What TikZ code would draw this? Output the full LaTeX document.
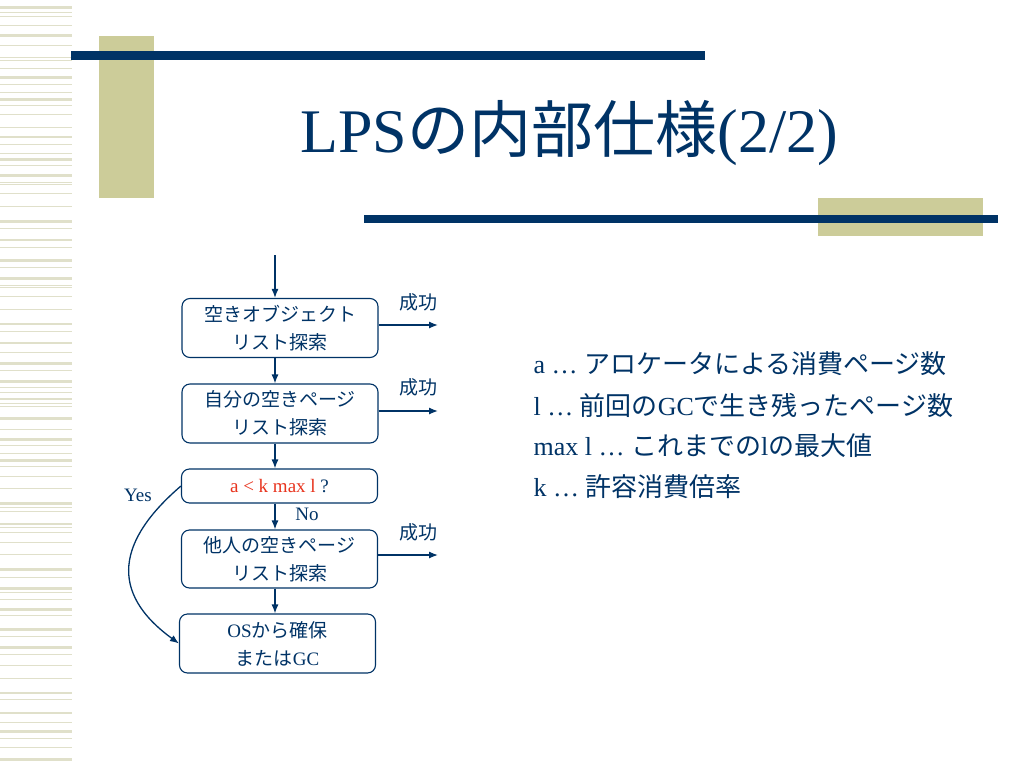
\documentclass[tikz,border=0pt]{standalone}
\usepackage{fontspec}
\setmainfont{Liberation Serif}
\newfontfamily\jp{Noto Sans CJK JP}
\usetikzlibrary{arrows.meta}

\definecolor{navy}{RGB}{0,51,102}
\definecolor{khaki}{RGB}{204,204,153}
\definecolor{stripe}{RGB}{224,224,202}
\definecolor{alarm}{RGB}{232,52,30}

\tikzset{
  flowbox/.style={draw=navy, line width=1.1pt, rounded corners=8pt, minimum width=196pt,
    minimum height=59pt, inner sep=0pt, align=center, text=navy, font=\jp\fontsize{19}{28}\selectfont},
  flow/.style={draw=navy, line width=1.3pt, -{Latex[length=9pt,width=7pt]}},
  lbl/.style={text=navy, font=\fontsize{19}{22}\selectfont},
  defline/.style={anchor=base west, text=navy, font=\fontsize{26}{30}\selectfont},
}

\begin{document}
\begin{tikzpicture}[x=1pt,y=-1pt]
          \fill[white] (0,0) rectangle (1024,768);
          \useasboundingbox (0,0) rectangle (1024,768);
          % background texture and bars
          \foreach \y/\h in {6/3,12/1,16/1,25/1,34/3,45/1,57/1,60/1,68/1,76/3,84/1,92/1,98/3,105/1,114/1,
            127/1,136/2,144/1,153/1,158/3,165/1,174/3,182/1,184/1,193/1,206/1,220/3,228/1,239/2,247/1,
            259/3,267/1,277/3,285/1,287/1,296/1,309/1,323/2,331/1,342/2,352/1,362/3,370/1,380/3,387/1,
            392/1,398/2,403/1,406/1,417/3,429/1,438/3,445/1,453/1,459/3,466/1,476/1,488/1,502/3,507/1,
            511/1,523/2,527/1,532/1,542/1,554/1,568/3,577/1,587/3,592/1,599/1,608/3,615/1,628/3,636/1,
            646/3,654/1,665/1,678/1,692/2,699/1,712/2,722/1,730/3,738/1,747/1,758/3}
            \fill[stripe] (0,\y) rectangle (72,\y+\h);
          \fill[khaki] (99,36) rectangle (154,198);
          \fill[navy] (71,51) rectangle (705,60);
          \fill[khaki] (818,198) rectangle (983,236);
          \fill[navy] (364,215) rectangle (998,223);
          \node[anchor=base west, text=navy, font=\fontsize{62}{70}\selectfont] (title) at (297,152) {LPS{\jp の内部仕様}(2/2)};
          % flow chart
          \coordinate (entry) at (275,255);
          \node[flowbox] (objs) at (280,328) {空きオブジェクト\\リスト探索};
          \node[flowbox] (own) at (280,413.5) {自分の空きページ\\リスト探索};
          \node[flowbox, minimum height=34pt, font=\fontsize{19}{22}\selectfont] (test) at (279.5,486) {{\color{alarm}a < k max l} ?};
          \node[flowbox, minimum height=58pt] (other) at (279.5,559) {他人の空きページ\\リスト探索};
          \node[flowbox, font=\fontsize{19}{28}\selectfont] (os) at (277.5,643.5) {OS{\jp から確保}\\{\jp または}GC};
          \draw[flow] (entry) -- (objs.north -| entry);
          \draw[flow] (objs.south -| entry) -- (own.north -| entry);
          \draw[flow] (own.south -| entry) -- (test.north -| entry);
          \draw[flow] (test.south -| entry) -- (other.north -| entry);
          \draw[flow] (other.south -| entry) -- (os.north -| entry);
          \draw[flow] (test.west) .. controls (118,540) and (108,592) .. (os.west);
          \node[lbl] (yes) at (138,495) {Yes};
          \node[lbl] (no) at (307,514) {No};
          % success exits
          \coordinate (won1) at (438,325);
          \coordinate (won2) at (438,411);
          \coordinate (won3) at (438,555);
          \draw[flow] (objs.east |- won1) -- (won1);
          \draw[flow] (own.east |- won2) -- (won2);
          \draw[flow] (other.east |- won3) -- (won3);
          \node[lbl, font=\jp\fontsize{19}{22}\selectfont] (ok1) at (418,302) {成功};
          \node[lbl, font=\jp\fontsize{19}{22}\selectfont] (ok2) at (418,387) {成功};
          \node[lbl, font=\jp\fontsize{19}{22}\selectfont] (ok3) at (418,532) {成功};
          % definitions
          \node[defline] (def1) at (530,373) {a … {\jp アロケータによる消費ページ数}};
          \node[defline] (def2) at (530,415) {l … {\jp 前回の}GC{\jp で生き残ったページ数}};
          \node[defline] (def3) at (530,455) {max l … {\jp これまでの}l{\jp の最大値}};
          \node[defline] (def4) at (530,496) {k … {\jp 許容消費倍率}};
\end{tikzpicture}
\end{document}
